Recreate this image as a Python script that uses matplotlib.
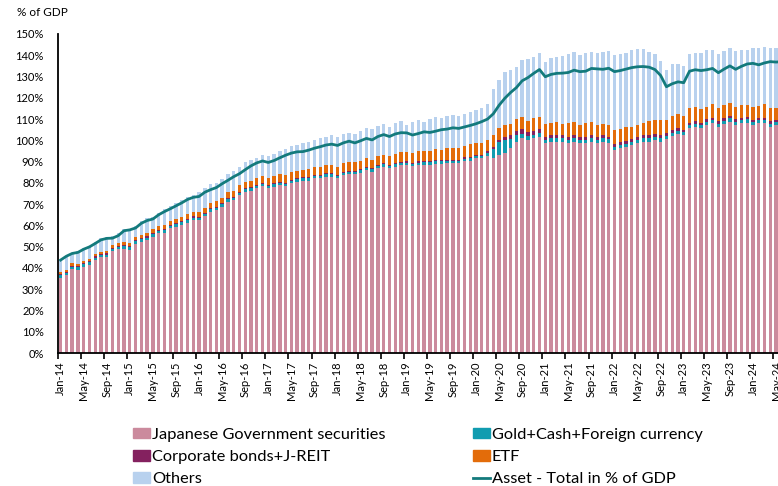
import matplotlib
matplotlib.use("Agg")
import matplotlib.pyplot as plt
from matplotlib.patches import Patch
from matplotlib.lines import Line2D
import numpy as np
import pandas as pd

plt.rcParams['font.family'] = ['Lato', 'DejaVu Sans']

# monthly, Jan-14 .. Jun-24 (% of GDP)
months = pd.date_range('2014-01-01', periods=126, freq='MS')
month_labels = [m.strftime('%b-%y') for m in months]

jgb = [35.5, 36.7, 39.5, 39.2, 40.6, 41.6, 43.8, 45.0, 45.2, 47.8, 48.8, 49.0,
       48.6, 51.4, 52.3, 53.1, 54.7, 56.2, 56.6, 58.6, 59.4, 60.2, 61.3, 62.5,
       62.5, 64.3, 66.4, 67.2, 68.8, 71.1, 71.9, 74.3, 75.8, 76.3, 77.4, 78.5,
       77.4, 78.2, 79.0, 78.5, 79.8, 80.5, 81.0, 81.0, 82.1, 82.1, 82.9, 82.9,
       82.1, 83.7, 84.1, 84.2, 84.8, 86.0, 85.2, 86.8, 87.6, 86.8, 87.6, 88.4,
       88.4, 87.8, 88.4, 88.6, 88.6, 89.0, 89.0, 89.2, 89.2, 89.2, 90.3, 90.5,
       91.5, 91.5, 92.6, 91.5, 93.1, 94.2, 96.2, 99.4, 100.9, 100.1, 100.9, 101.7,
       98.6, 99.4, 99.4, 99.4, 98.6, 99.4, 98.6, 98.6, 99.4, 98.6, 99.4, 98.9,
       95.4, 96.2, 97.0, 97.8, 98.6, 99.4, 99.4, 100.1, 99.4, 100.5, 102.0, 102.8,
       102.3, 105.6, 106.4, 105.6, 107.2, 108.0, 106.4, 107.7, 108.8, 107.2, 108.0, 108.3,
       107.2, 108.0, 108.0, 106.4, 107.2, 107.5]

gold_cash_fx = [1.1, 1.1, 1.1, 1.1, 1.1, 1.1, 1.1, 1.1, 1.1, 1.2, 1.2, 1.2,
                1.2, 1.2, 1.2, 1.2, 1.2, 1.2, 1.2, 1.2, 1.2, 1.2, 1.2, 1.2,
                1.1, 1.1, 1.1, 1.1, 1.1, 1.1, 1.1, 1.1, 1.1, 1.1, 1.1, 1.1,
                1.1, 1.1, 1.1, 1.1, 1.1, 1.1, 1.1, 1.1, 1.1, 1.1, 1.1, 1.1,
                1.1, 1.1, 1.1, 1.1, 1.1, 1.1, 1.1, 1.1, 1.1, 1.1, 1.1, 1.1,
                1.1, 1.1, 1.1, 1.1, 1.1, 1.1, 1.1, 1.1, 1.1, 1.1, 1.1, 1.1,
                1.1, 1.1, 1.5, 4.5, 6.0, 6.0, 4.5, 3.0, 2.3, 1.8, 1.7, 1.6,
                1.5, 1.5, 1.5, 1.5, 1.5, 1.5, 1.5, 1.5, 1.5, 1.5, 1.5, 1.5,
                1.5, 1.5, 1.5, 1.6, 1.6, 1.6, 1.6, 1.6, 1.7, 1.7, 1.6, 1.6,
                1.5, 1.5, 1.5, 1.5, 1.5, 1.5, 1.5, 1.5, 1.5, 1.5, 1.5, 1.5,
                1.5, 1.5, 1.5, 1.5, 1.5, 1.5]

corp_jreit = [0.5, 0.5, 0.5, 0.5, 0.5, 0.5, 0.5, 0.5, 0.5, 0.5, 0.5, 0.5,
              0.5, 0.5, 0.5, 0.5, 0.5, 0.5, 0.5, 0.5, 0.5, 0.5, 0.5, 0.5,
              0.5, 0.5, 0.5, 0.5, 0.5, 0.5, 0.5, 0.5, 0.5, 0.5, 0.5, 0.5,
              0.5, 0.5, 0.5, 0.5, 0.5, 0.5, 0.5, 0.5, 0.5, 0.5, 0.5, 0.5,
              0.5, 0.5, 0.5, 0.5, 0.5, 0.5, 0.5, 0.5, 0.5, 0.5, 0.5, 0.5,
              0.6, 0.6, 0.6, 0.6, 0.6, 0.6, 0.6, 0.6, 0.6, 0.6, 0.6, 0.6,
              0.6, 0.7, 0.8, 1.0, 1.2, 1.5, 1.6, 1.8, 1.9, 1.8, 1.8, 1.8,
              1.6, 1.6, 1.6, 1.6, 1.5, 1.5, 1.5, 1.5, 1.5, 1.4, 1.4, 1.4,
              1.3, 1.3, 1.3, 1.3, 1.3, 1.3, 1.3, 1.3, 1.3, 1.3, 1.3, 1.3,
              1.1, 1.1, 1.1, 1.1, 1.1, 1.1, 1.1, 1.1, 1.1, 1.1, 1.1, 1.1,
              1.0, 1.0, 1.0, 1.0, 1.0, 1.0]

etf = [0.9, 0.9, 1.0, 1.0, 1.0, 1.1, 1.1, 1.1, 1.2, 1.2, 1.4, 1.5,
       1.5, 1.5, 1.6, 1.7, 1.7, 1.8, 1.9, 2.0, 2.1, 2.1, 2.2, 2.3,
       2.4, 2.5, 2.6, 2.6, 2.7, 2.8, 2.9, 3.0, 3.1, 3.1, 3.2, 3.3,
       3.3, 3.3, 3.4, 3.4, 3.5, 3.6, 3.6, 3.7, 3.7, 3.8, 3.8, 3.9,
       3.9, 4.0, 4.1, 3.8, 4.0, 3.9, 4.0, 4.2, 3.9, 4.0, 4.5, 4.3,
       4.5, 4.7, 4.9, 4.6, 4.8, 5.0, 4.9, 5.3, 5.6, 5.4, 5.5, 5.9,
       5.4, 5.3, 5.2, 5.5, 5.3, 5.5, 5.4, 5.7, 6.0, 5.5, 5.9, 6.0,
       6.0, 5.8, 6.3, 5.3, 6.6, 6.3, 5.6, 6.4, 6.4, 5.7, 5.2, 5.4,
       6.5, 6.5, 6.3, 5.8, 5.9, 6.0, 6.8, 6.7, 7.2, 6.2, 6.5, 6.7,
       6.5, 6.8, 6.8, 6.5, 6.0, 6.3, 6.0, 6.1, 6.3, 6.0, 5.8, 5.8,
       5.8, 5.6, 6.6, 6.1, 5.6, 5.6]

others = [5.7, 6.3, 5.1, 6.0, 6.1, 6.2, 5.7, 6.2, 6.6, 4.5, 4.4, 6.3,
          6.7, 5.2, 6.4, 6.8, 5.9, 6.3, 7.3, 6.7, 7.2, 7.8, 8.2, 8.0,
          9.0, 9.0, 8.9, 8.7, 8.6, 8.5, 9.3, 8.4, 9.4, 9.7, 9.3, 9.7,
          10.3, 10.5, 11.1, 12.2, 12.4, 12.1, 12.4, 12.7, 12.7, 13.4, 13.1, 14.1,
          14.1, 13.7, 13.8, 13.4, 14.1, 14.1, 14.3, 14.1, 14.6, 13.8, 14.6, 14.9,
          12.6, 14.6, 14.5, 13.9, 14.8, 15.1, 14.7, 15.2, 15.4, 15.1, 15.1, 15.3,
          15.6, 16.4, 17.0, 21.5, 22.7, 25.1, 25.3, 24.7, 26.7, 28.9, 29.0, 29.8,
          29.3, 30.2, 30.5, 31.9, 32.3, 32.9, 32.9, 33.2, 32.9, 34.1, 34.2, 34.9,
          35.4, 35.1, 35.1, 35.9, 35.4, 34.5, 32.4, 30.9, 27.8, 23.3, 24.5, 23.5,
          23.5, 25.6, 25.4, 26.2, 26.5, 25.8, 25.6, 25.7, 25.5, 26.3, 26.3, 25.7,
          27.7, 27.5, 27.0, 28.2, 27.9, 27.9]

asset_total = [43.7, 45.5, 46.8, 47.3, 48.8, 49.9, 51.5, 53.2, 53.9, 54.0, 55.2, 57.5,
               57.9, 58.8, 61.0, 62.3, 63.0, 65.0, 66.5, 67.8, 69.2, 70.6, 72.2, 73.2,
               73.6, 75.6, 76.8, 77.8, 79.6, 81.2, 82.9, 84.3, 86.2, 88.0, 89.4, 90.3,
               89.6, 90.5, 91.8, 93.0, 94.0, 94.6, 94.7, 95.4, 96.3, 97.0, 97.8, 98.2,
               97.6, 98.8, 99.6, 98.8, 99.8, 100.9, 100.2, 101.8, 102.7, 101.8, 103.0, 103.6,
               103.5, 102.5, 103.2, 104.0, 103.7, 104.3, 105.0, 105.3, 105.9, 105.6, 106.3, 107.0,
               107.8, 108.8, 110.0, 112.5, 116.5, 119.8, 122.5, 124.8, 128.0, 129.5, 131.5, 133.3,
               129.9, 131.0, 131.5, 131.6, 131.9, 133.0, 132.3, 132.5, 133.8, 133.6, 133.4, 133.9,
               132.3, 132.8, 133.5, 134.2, 134.6, 134.7, 134.4, 133.3, 130.5, 125.2, 126.6, 127.5,
               127.1, 132.5, 133.2, 132.8, 133.2, 133.8, 131.8, 133.5, 135.0, 133.4, 134.8, 135.9,
               136.2, 135.5, 136.4, 137.0, 136.8, 137.0]

series = [
    ('Japanese Government securities', jgb, '#CB8A9D'),
    ('Gold+Cash+Foreign currency', gold_cash_fx, '#119CB0'),
    ('Corporate bonds+J-REIT', corp_jreit, '#84215F'),
    ('ETF', etf, '#E36C0A'),
    ('Others', others, '#B8D1EE'),
]
line_color = '#137A7C'

fig = plt.figure(figsize=(7.78, 4.86), dpi=100)
ax = fig.add_axes([57.7 / 778, 1 - 353 / 486, 727 / 778, 319 / 486])

x = np.arange(len(months))
bottom = np.zeros(len(months))
for name, vals, col in series:
    ax.bar(x, vals, width=0.58, bottom=bottom, color=col, linewidth=0)
    bottom += np.array(vals)

ax.plot(x, asset_total, color=line_color, lw=2.0, zorder=5)

ax.set_xlim(-0.5, len(months) - 0.5)
ax.set_ylim(0, 150)
ax.set_yticks(np.arange(0, 151, 10))
ax.set_yticklabels([f'{v}%' for v in range(0, 151, 10)], fontsize=8)
ax.tick_params(axis='y', length=0, pad=10)

# tick marks between categories, labels centred on the month
ax.set_xticks(np.arange(-0.5, len(months), 4))
ax.set_xticklabels([])
ax.set_xticks(x[::4], minor=True)
ax.set_xticklabels(month_labels[::4], minor=True, rotation=90, fontsize=8)
ax.tick_params(axis='x', which='major', length=4, width=1.2, color='black')
ax.tick_params(axis='x', which='minor', length=0, pad=6)

for s in ['top', 'right']:
    ax.spines[s].set_visible(False)
ax.spines['left'].set_linewidth(1.3)
ax.spines['bottom'].set_linewidth(1.3)

fig.text(17 / 778, 1 - 13 / 486, '% of GDP', fontsize=8.5, va='center', ha='left')

handles = [Patch(color=series[0][2]), Patch(color=series[2][2]), Patch(color=series[4][2]),
           Patch(color=series[1][2]), Patch(color=series[3][2]),
           Line2D([], [], color=line_color, lw=2.0)]
labels = [series[0][0], series[2][0], series[4][0], series[1][0], series[3][0],
          'Asset - Total in % of GDP']
fig.legend(handles, labels, ncol=2, loc='upper left', bbox_to_anchor=(133 / 778, 1 - 428 / 486),
           frameon=False, fontsize=11.8, handlelength=1.05, handleheight=0.6,
           handletextpad=0.12, labelspacing=0.5, columnspacing=5.3,
           borderpad=0, borderaxespad=0)

fig.savefig('out.png', dpi=100)
